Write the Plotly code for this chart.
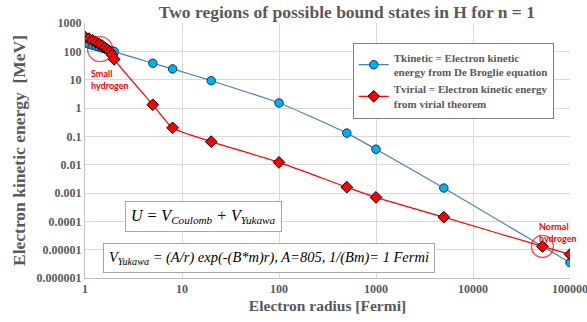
import plotly.graph_objects as go

# ---- data ----
radius_kin = [1.0, 1.1, 1.2, 1.3, 1.4, 1.5, 1.6, 1.7, 1.8, 1.9, 2.0, 5, 8, 20, 100, 500, 1000, 5000, 100000]
t_kinetic = [197, 179, 164, 152, 141, 131, 123, 116, 109, 104, 98, 38, 24, 9.2, 1.5, 0.13, 0.035, 0.0015, 0.0000035]

radius_vir = [1.0, 1.1, 1.2, 1.3, 1.4, 1.5, 1.6, 1.7, 1.8, 1.9, 2.0, 5, 8, 20, 100, 500, 1000, 5000, 52000, 100000]
t_virial = [320, 280, 245, 210, 180, 160, 135, 115, 95, 75, 52, 1.3, 0.2, 0.065, 0.012, 0.0016, 0.0007, 0.00014, 0.000013, 0.0000068]

x_ticks = [1, 10, 100, 1000, 10000, 100000]
x_tick_text = ["1", "10", "100", "1000", "10000", "100000"]
y_ticks = [1000, 100, 10, 1, 0.1, 0.01, 0.001, 0.0001, 0.00001, 0.000001]
y_tick_text = ["1000", "100", "10", "1", "0.1", "0.01", "0.001", "0.0001", "0.00001", "0.000001"]

small_h = (1.43, 120)
normal_h = (52000, 0.000013)

SERIF = "Liberation Serif"
GRAY = "#595959"

fig = go.Figure()

fig.add_trace(go.Scatter(
    x=radius_kin, y=t_kinetic, mode="lines+markers",
    name="<b>Tkinetic = Electron kinetic<br>energy from De Broglie equation</b>",
    line=dict(color="#4A7EBB", width=1.2, shape="spline", smoothing=0.6),
    marker=dict(symbol="circle", size=8.5, color="#00B0F0", line=dict(color="#17375E", width=1)),
))

fig.add_trace(go.Scatter(
    x=radius_vir, y=t_virial, mode="lines+markers",
    name="<b>Tvirial = Electron kinetic energy<br>from virial theorem</b>",
    line=dict(color="#FF0000", width=1.2, shape="spline", smoothing=0.6),
    marker=dict(symbol="diamond", size=9, color="#FF0000", line=dict(color="#000000", width=1)),
    error_y=dict(type="percent", value=22, color="#000000", thickness=1, width=2),
    error_x=dict(type="percent", value=8, color="#000000", thickness=1, width=2),
))

# highlight circles
fig.add_trace(go.Scatter(
    x=[small_h[0], normal_h[0]], y=[small_h[1], normal_h[1]], mode="markers",
    marker=dict(symbol="circle-open", size=[25, 22], color="#FF0000", line=dict(width=1.3)),
    showlegend=False, hoverinfo="skip",
))

fig.update_layout(
    width=587, height=322,
    margin=dict(l=85, r=17, t=23, b=44),
    paper_bgcolor="white", plot_bgcolor="white",
    title=dict(text="<b>Two regions of possible bound states in H for n = 1</b>",
               x=0.54, xref="paper", y=0.963, yref="container", xanchor="center", yanchor="middle",
               font=dict(family=SERIF, size=17.5, color=GRAY)),
    showlegend=True,
    legend=dict(x=0.552, y=0.922, xanchor="left", yanchor="top",
                bgcolor="white", bordercolor="#7F7F7F", borderwidth=1,
                font=dict(family=SERIF, size=11, color=GRAY),
                itemwidth=30, tracegroupgap=0),
    font=dict(family=SERIF, color=GRAY),
)

fig.update_xaxes(
    type="log", range=[0, 5], tickvals=x_ticks, ticktext=["<b>%s</b>" % t for t in x_tick_text],
    tickfont=dict(family=SERIF, size=12, color=GRAY), ticklabeloverflow="allow", automargin=False,
    showgrid=True, gridcolor="#D9D9D9", gridwidth=1,
    showline=True, linecolor="#BFBFBF", linewidth=1, zeroline=False, ticks="",
    title=dict(text="<b>Electron radius [Fermi]</b>", font=dict(family=SERIF, size=15.5, color=GRAY), standoff=4),
)
fig.update_yaxes(
    type="log", range=[-6, 3], tickvals=y_ticks, ticktext=["<b>%s</b>" % t for t in y_tick_text],
    tickfont=dict(family=SERIF, size=12, color=GRAY), ticklabeloverflow="allow", automargin=False,
    showgrid=True, gridcolor="#D9D9D9", gridwidth=1,
    showline=True, linecolor="#BFBFBF", linewidth=1, zeroline=False, ticks="",
    title=dict(text="<b>Electron kinetic energy  [MeV]</b>", font=dict(family=SERIF, size=17.5, color=GRAY), standoff=6),
)

# formula boxes
fig.add_annotation(
    x=0.245, y=0.243, xref="paper", yref="paper", xanchor="center", yanchor="middle",
    text="<i>U = V<sub>Coulomb</sub> + V<sub>Yukawa</sub></i>", showarrow=False,
    font=dict(family=SERIF, size=16, color="#000000"),
    bgcolor="white", bordercolor="#A6A6A6", borderwidth=1, borderpad=5,
)
fig.add_annotation(
    x=0.38, y=0.08, xref="paper", yref="paper", xanchor="center", yanchor="middle",
    text="<i>V<sub>Yukawa</sub> = (A/r) exp(-(B*m)r), A=805, 1/(Bm)= 1 Fermi</i>", showarrow=False,
    font=dict(family=SERIF, size=14.5, color="#000000"),
    bgcolor="white", bordercolor="#A6A6A6", borderwidth=1, borderpad=5,
)

# hydrogen labels
fig.add_annotation(
    x=(89 - 85) / 485, y=1 - (66 - 23) / 255, xref="paper", yref="paper", xanchor="left", yanchor="top",
    text="<b>Small<br>hydrogen</b>", showarrow=False, align="left",
    font=dict(family="Lato", size=9, color="#FF0000"),
)
fig.add_annotation(
    x=(537 - 85) / 485, y=1 - (219 - 23) / 255, xref="paper", yref="paper", xanchor="left", yanchor="top",
    text="<b>Normal<br>hydrogen</b>", showarrow=False, align="left",
    font=dict(family="Lato", size=9, color="#FF0000"),
)

fig.write_html("out.html")
